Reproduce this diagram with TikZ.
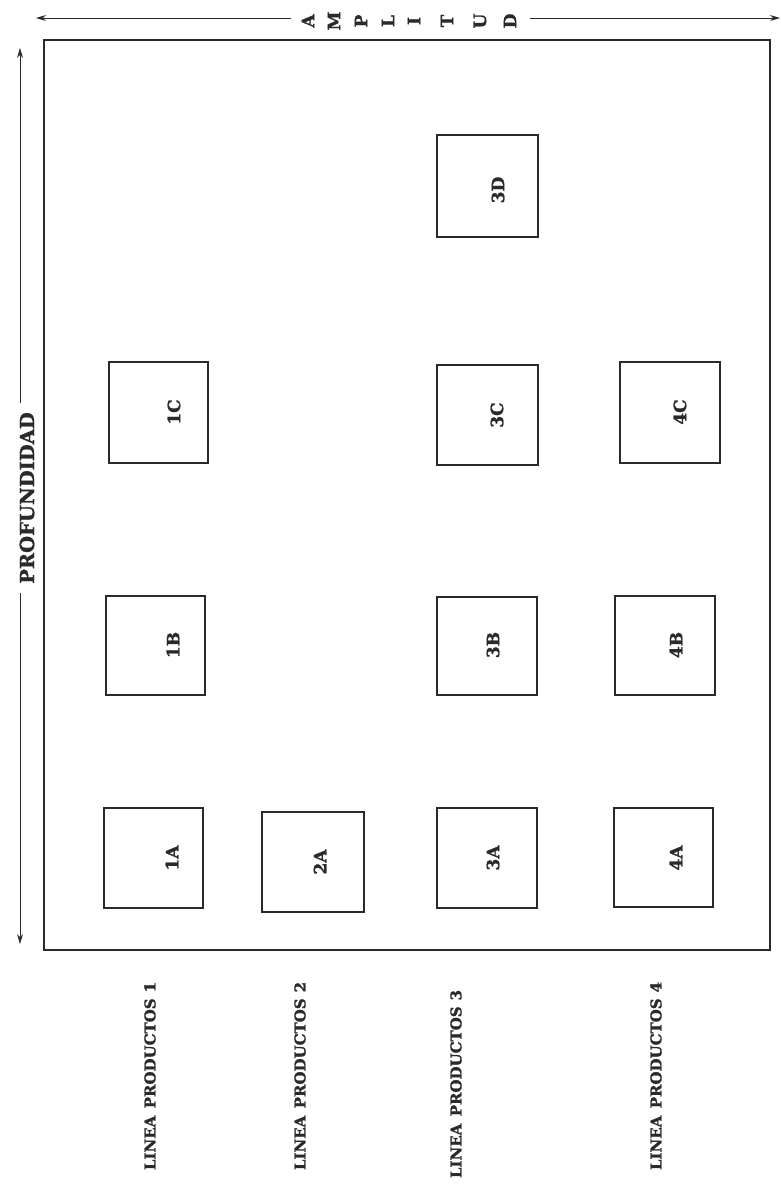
\documentclass[tikz,border=0pt]{standalone}
\usepackage{fontspec}
\setmainfont{DejaVu Serif}[BoldFeatures={FakeBold=1.2}]
\usetikzlibrary{arrows.meta,fit}
\definecolor{ink}{HTML}{2A2A2A}
\tikzset{
  frame/.style={draw=ink, line width=2.2pt, inner sep=0pt},
  bay/.style={draw=ink, line width=1.1pt, inner sep=0pt},
  baytext/.style={rotate=90, font=\bfseries\fontsize{17}{17}\selectfont, text=ink, inner sep=0pt},
  axistext/.style={rotate=90, font=\bfseries\fontsize{19.5}{19.5}\selectfont, text=ink, inner sep=9pt},
  amptext/.style={rotate=90, font=\bfseries\fontsize{17}{17}\selectfont, text=ink, inner sep=0pt},
  linetext/.style={rotate=90, font=\bfseries\fontsize{15}{15}\selectfont, text=ink, inner sep=0pt},
  dimarrow/.style={draw=ink, line width=1pt, -{Stealth[length=10pt,width=6pt]}},
}
\begin{document}
\begin{tikzpicture}[x=1pt,y=-1pt]
\fill[white] (0,0) rectangle (781,1184);
\useasboundingbox (0,0) rectangle (781,1184);

% main frame
\node[frame, fit={(44,40) (770,950)}] (frame) {};

% AMPLITUD
\foreach \l/\x [count=\i] in {A/308,M/334,P/361,L/388,I/414,T/447,U/480,D/510}
  \node[amptext] (amp\i) at (\x,21) {\l};
\coordinate (ampL) at (36,18);
\coordinate (ampR) at (780,18);
\draw[dimarrow] ([xshift=-11pt]amp1.north |- ampL) -- (ampL);
\draw[dimarrow] ([xshift=14pt]amp8.south |- ampR) -- (ampR);

% PROFUNDIDAD
\node[axistext] (prof) at (27,498) {PROFUNDIDAD};
\coordinate (profT) at (20,48);
\coordinate (profB) at (20,944);
\draw[dimarrow] (prof.east -| profT) -- (profT);
\draw[dimarrow] (prof.west -| profB) -- (profB);

% bays
\node[bay, fit={(104,808) (203,908)}] (b1A) {};
\node[bay, fit={(262,812) (364,912)}] (b2A) {};
\node[bay, fit={(437,808) (537,908)}] (b3A) {};
\node[bay, fit={(614,808) (713,907)}] (b4A) {};
\node[bay, fit={(106,596) (205,695)}] (b1B) {};
\node[bay, fit={(437,597) (537,695)}] (b3B) {};
\node[bay, fit={(615,596) (715,695)}] (b4B) {};
\node[bay, fit={(109,362) (208,463)}] (b1C) {};
\node[bay, fit={(437,365) (538,465)}] (b3C) {};
\node[bay, fit={(620,362) (720,463)}] (b4C) {};
\node[bay, fit={(437,135) (538,237)}] (b3D) {};

\node[baytext] (t1A) at (172,858) {1A};
\node[baytext] (t2A) at (320,862) {2A};
\node[baytext] (t3A) at (493,858) {3A};
\node[baytext] (t4A) at (676,858) {4A};
\node[baytext] (t1B) at (173,645) {1B};
\node[baytext] (t3B) at (493,645) {3B};
\node[baytext] (t4B) at (676,645) {4B};
\node[baytext] (t1C) at (174,412) {1C};
\node[baytext] (t3C) at (497,415) {3C};
\node[baytext] (t4C) at (680,412) {4C};
\node[baytext] (t3D) at (498,190) {3D};

% product lines
\node[linetext] (l1) at (150,1076) {LINEA\hspace{0.5em}PRODUCTOS\hspace{0.4em}1};
\node[linetext] (l2) at (300,1076) {LINEA\hspace{0.5em}PRODUCTOS\hspace{0.4em}2};
\node[linetext] (l3) at (456,1084) {LINEA\hspace{0.5em}PRODUCTOS\hspace{0.4em}3};
\node[linetext] (l4) at (656,1076) {LINEA\hspace{0.5em}PRODUCTOS\hspace{0.4em}4};
\end{tikzpicture}
\end{document}
